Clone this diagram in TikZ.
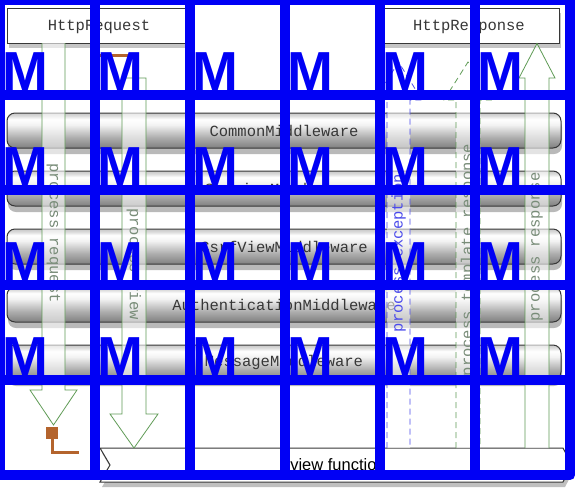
\documentclass[tikz,border=0pt]{standalone}
\usepackage{fontspec}
\setmainfont{Liberation Sans}
\setmonofont{Liberation Mono}
\usetikzlibrary{shadows}
\definecolor{ovblue}{RGB}{0,0,245}
\definecolor{argreen}{RGB}{95,155,85}
\definecolor{artext}{RGB}{120,140,120}
\definecolor{exblue}{RGB}{75,75,235}
\definecolor{brownc}{RGB}{180,100,45}
\definecolor{boxline}{RGB}{55,55,55}
\definecolor{txtgray}{RGB}{55,55,55}
\pgfdeclareverticalshading{barshade}{100bp}{color(0bp)=(black!50); color(25bp)=(black!50); color(40bp)=(black!32); color(58bp)=(black!5); color(66bp)=(white); color(71bp)=(black!14); color(75bp)=(black!22); color(100bp)=(black!22)}
\begin{document}
\begin{tikzpicture}[x=1pt,y=-1pt,
  headbox/.style={draw=boxline,fill=white,line width=0.8pt,minimum width=178pt,minimum height=35pt,inner sep=0pt,
    font=\fontsize{15.5}{18}\selectfont\ttfamily,text=txtgray,
    drop shadow={shadow xshift=2pt,shadow yshift=-5pt,opacity=0.45}},
  mwbar/.style={draw=boxline,line width=1pt,rounded corners=8pt,shading=barshade,minimum width=554pt,minimum height=35pt,inner sep=0pt,
    font=\fontsize{15.5}{18}\selectfont\ttfamily,text=txtgray,
    drop shadow={shadow xshift=1pt,shadow yshift=-6pt,opacity=0.55}},
  solidarrow/.style={draw=argreen,line width=0.8pt,fill=white,fill opacity=0.6,draw opacity=1},
  dasharrow/.style={line width=0.8pt,dash pattern=on 6pt off 4pt,fill=white,fill opacity=0.55,draw opacity=1},
  arlabel/.style={font=\fontsize{15.5}{18}\selectfont\ttfamily,inner sep=0pt},
  ovline/.style={draw=ovblue,line width=10.5pt,line join=round},
  ovm/.style={anchor=base west,inner sep=0pt,text=ovblue,font=\fontsize{55}{55}\selectfont\bfseries}
]
\useasboundingbox (0,0) rectangle (578,499);
\fill[white] (0,0) rectangle (578,499);

% header boxes
\node[headbox] (req) at (96,25.5) {};
\node[font=\fontsize{15.5}{18}\selectfont\ttfamily,text=txtgray,inner sep=0pt] (reqt) at (99,27) {HttpRequest};
\node[headbox] (resp) at (470,25.5) {};
\node[font=\fontsize{15.5}{18}\selectfont\ttfamily,text=txtgray,inner sep=0pt] (respt) at (469,27) {HttpResponse};

% middleware bars
\node[mwbar] (m1) at (284,130.5) {CommonMiddleware};
\node[mwbar] (m2) at (284,188.5) {SessionMiddleware};
\node[mwbar] (m3) at (284,246.5) {CsrfViewMiddleware};
\node[mwbar] (m4) at (284,304.5) {AuthenticationMiddleware};
\node[mwbar] (m5) at (284,362.5) {MessageMiddleware};

% view function
\path[draw=boxline,line width=1pt,fill=white,drop shadow={shadow xshift=2pt,shadow yshift=-5pt,opacity=0.5}]
  (100,448) -- (563,448) -- (572,465) -- (563,482) -- (100,482) -- (110,465) -- cycle;
\node[font=\fontsize{16.5}{18}\selectfont,text=black,inner sep=0pt] (view) at (338,465) {view function};

% process request
\path[solidarrow] (42,43) -- (42,390) -- (30,390) -- (53.5,425) -- (77,390) -- (65,390) -- (65,43);
\node[arlabel,text=artext,rotate=-90] (preq) at (53.5,233) {process request};

% process view
\path[solidarrow] (122,78) -- (122,414) -- (110,414) -- (134,448) -- (158,414) -- (146,414) -- (146,78) -- cycle;
\node[arlabel,text=artext,rotate=-90] (pview) at (134,264) {process view};

% process exception
\path[dasharrow,draw=exblue] (387,448) -- (387,100) -- (375,100) -- (398.5,62) -- (422,100) -- (410,100) -- (410,448);
\node[arlabel,text=exblue,rotate=90] (pexc) at (398.5,253) {process exception};

% process template response
\path[dasharrow,draw=argreen] (456,448) -- (456,100) -- (444,100) -- (468,62) -- (492,100) -- (480,100) -- (480,448);
\node[arlabel,text=artext,rotate=90] (ptpl) at (468,260) {process template response};

% process response
\path[solidarrow] (525,448) -- (525,78) -- (519,78) -- (537,43.5) -- (555,78) -- (549,78) -- (549,448);
\node[arlabel,text=artext,rotate=90] (presp) at (537,247) {process response};

% brown connectors
\coordinate (b1) at (100,55);
\coordinate (b2) at (130,55);
\draw[brownc,line width=3pt] (b1) -- (b2);
\node[fill=brownc,minimum size=12pt,inner sep=0pt] (sq) at (52,433) {};
\coordinate (b3) at (52,452);
\coordinate (b4) at (79,452);
\draw[brownc,line width=3pt] (sq.south) -- (b3) -- (b4);

% blue overlay grid
\draw[ovline] (0,0) rectangle (570,475);
\foreach \i in {1,...,5} \draw[ovline] (95*\i,0) -- (95*\i,475);
\foreach \j in {1,...,4} \draw[ovline] (0,95*\j) -- (570,95*\j);
\foreach \r in {0,...,3}
  \foreach \c in {0,...,5}
    \node[ovm] at (95*\c+2,95*\r+90) {M};
\end{tikzpicture}
\end{document}
